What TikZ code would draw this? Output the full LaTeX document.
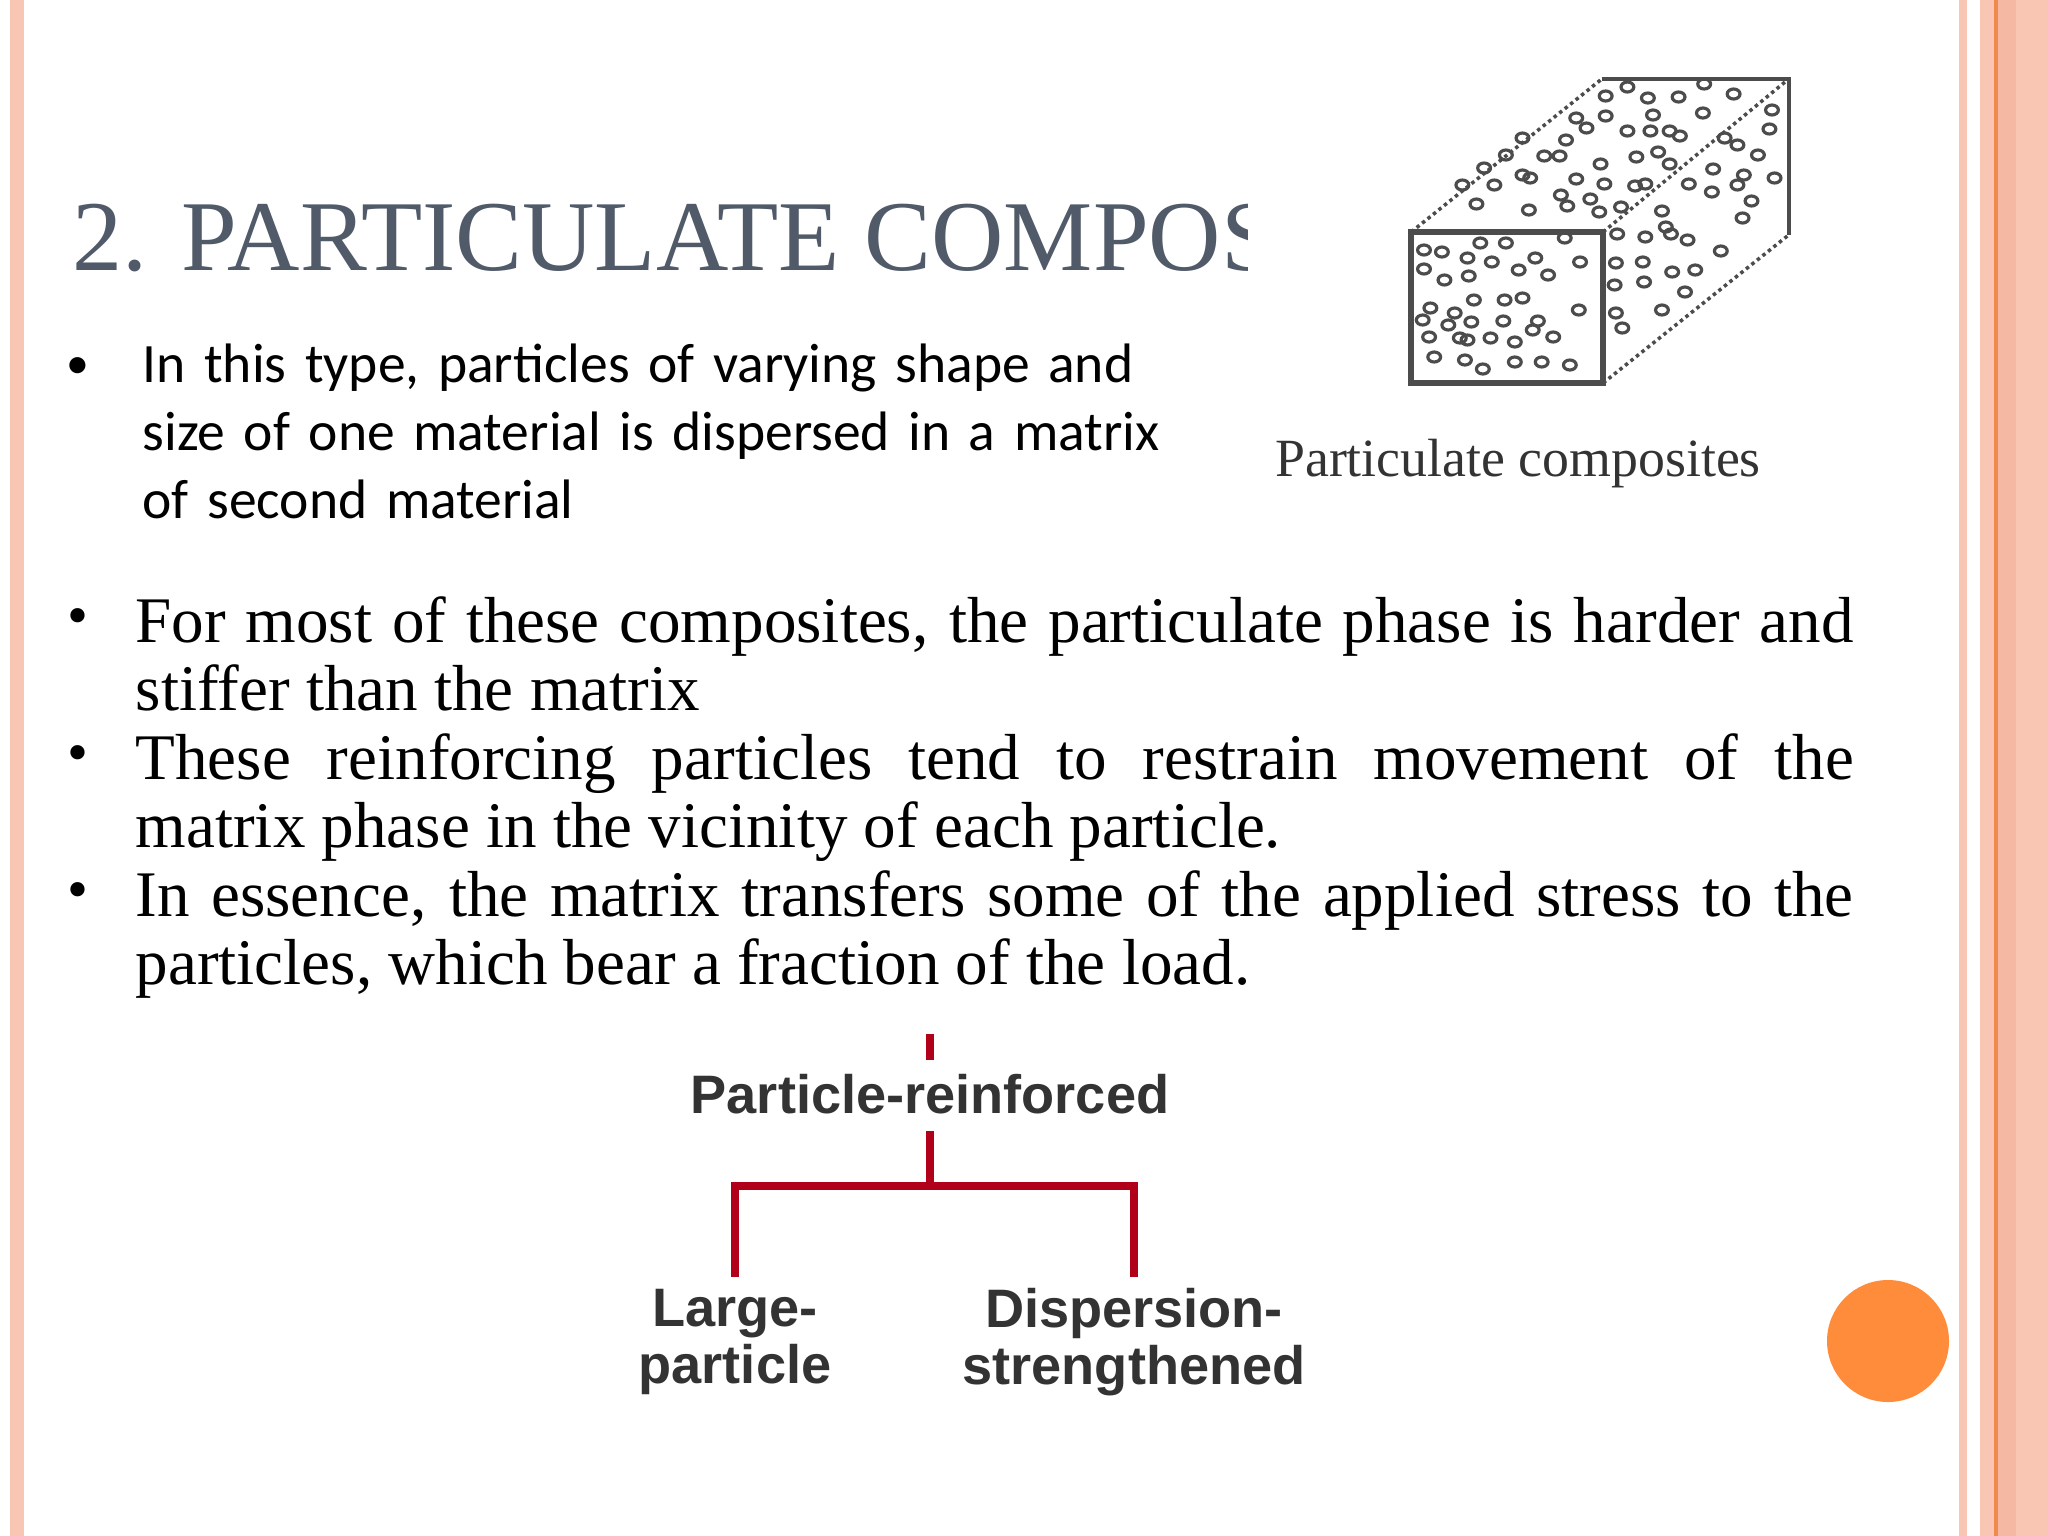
\documentclass[tikz,border=0pt]{standalone}
\usepackage{fontspec}
\setmainfont{Liberation Serif}
\newfontfamily\calib{Carlito}
\newfontfamily\arialf{Liberation Sans}
\definecolor{stripe}{HTML}{F9C6B3}
\definecolor{stripeD}{HTML}{F5B9A3}
\definecolor{orline}{HTML}{F08A4B}
\definecolor{titlec}{HTML}{505A68}
\definecolor{treered}{HTML}{B0001A}
\definecolor{dot}{HTML}{FF8C3A}
\begin{document}
\begin{tikzpicture}[x=0.01cm,y=-0.01cm,
  treeline/.style={treered,line width=2.2pt},
  treelabel/.style={font=\arialf\bfseries\fontsize{15.4}{16}\selectfont,text=black!80,align=center,inner sep=0pt},
  par/.style={anchor=north west,inner sep=0pt,align=justify},
  blt/.style={font=\fontsize{17}{20}\selectfont,inner sep=0pt}]
\useasboundingbox (0,0) rectangle (2048,1536);
\fill[white] (0,0) rectangle (2048,1536);
% borders
\fill[stripe] (10,0) rectangle (24,1536);
\fill[stripe] (1959,0) rectangle (1967,1536);
\fill[stripe] (1980,0) rectangle (2048,1536);
\fill[stripeD] (1997,0) rectangle (2016,1536);
\draw[orline,line width=1pt] (1996,0) -- (1996,1536);
% title
\begin{scope}
\clip (0,150) rectangle (1247,320);
\node[anchor=base west,inner sep=0pt,text=titlec,font=\fontsize{28.5}{32}\selectfont] (title) at (72,270) {2. PARTICULATE COMPOSITES};
\end{scope}
% bullet 1
\node[blt,font=\calib\fontsize{13}{16}\selectfont] (b1) at (78,368) {\textbullet};
\node[par,font=\calib\fontsize{15.8}{19.3}\selectfont,text width=11cm,align=left] (t1) at (142,343) {In this type, particles of varying shape and\\ size of one material is dispersed in a matrix\\ of second material};
% bullets 2-4
\node[blt] (b2) at (78,622) {\textbullet};
\node[par,font=\fontsize{18.5}{19.4}\selectfont,text width=17.17cm] (t2) at (135,596) {For most of these composites, the particulate phase is harder and\linebreak stiffer than the matrix};
\node[blt] (b3) at (78,759) {\textbullet};
\node[par,font=\fontsize{18.5}{19.4}\selectfont,text width=17.17cm] (t3) at (135,733) {These reinforcing particles tend to restrain movement of the\linebreak matrix phase in the vicinity of each particle.};
\node[blt] (b4) at (78,896) {\textbullet};
\node[par,font=\fontsize{18.5}{19.4}\selectfont,text width=17.17cm] (t4) at (135,870) {In essence, the matrix transfers some of the applied stress to the\linebreak particles, which bear a fraction of the load.};
% cube
\begin{scope}[gray!60!black,x=0.01278cm,xshift=-3.836cm]
\draw[line width=1pt,densely dotted] (1403,232) -- (1552,79) (1553,232) -- (1698,79) (1553,383) -- (1698,235);
\draw[line width=1.2pt] (1552,79) -- (1698,79) -- (1698,235);
\draw[line width=1.6pt] (1403,232) rectangle (1553,383);
\foreach \p in {(1413,250),(1427,252),(1457,243),(1477,243),(1523,238),(1447,258),(1466,262),(1500,258),(1535,262),(1413,269),(1429,280),(1448,276),(1487,270),(1510,275),(1418,308),(1437,313),(1452,300),(1476,300),(1490,298),(1534,310),(1475,321),(1450,322),(1412,320),(1432,325),(1447,340),(1498,330),(1484,342),(1417,337),(1441,338),(1465,338),(1514,337),(1421,357),(1445,360),(1459,369),(1484,362),(1505,362),(1527,365),(1502,321)}
  \draw[line width=0.9pt] \p circle (5);
\foreach \p in {(1572,87),(1632,84),(1555,96),(1588,98),(1612,97),(1655,94),(1592,115),(1631,113),(1532,118),(1555,116),(1540,128),(1572,131),(1590,131),(1605,131),(1648,138),(1613,136),(1685,110),(1683,129),(1524,140),(1490,138),(1507,156),(1519,156),(1551,164),(1579,157),(1596,152),(1586,184),(1532,179),(1554,184),(1578,186),(1605,164),(1520,195),(1477,155),(1460,168),(1490,175),(1443,185),(1468,185),(1496,178),(1454,204),(1495,210),(1525,206),(1543,199),(1567,207),(1550,212),(1599,211),(1620,184),(1658,185),(1602,227),(1619,240),(1638,192),(1663,175),(1687,178),(1669,201),(1662,218),(1658,145),(1639,169),(1674,155)}
  \draw[line width=0.9pt] \p circle (5);
\foreach \p in {(1564,234),(1586,237),(1606,234),(1563,263),(1584,262),(1607,272),(1645,251),(1562,285),(1585,282),(1617,292),(1563,313),(1599,310),(1568,328),(1625,270)}
  \draw[line width=0.9pt] \p circle (5);
\end{scope}
\node[font=\fontsize{15.3}{16}\selectfont,text=black!80,inner sep=0pt] (cap) at (1518,464) {Particulate composites};
% tree
\node[treelabel] (root) at (930,1094) {Particle-reinforced};
\node[treelabel] (lp) at (735,1342) {Large-\\particle};
\node[treelabel] (ds) at (1134,1342) {Dispersion-\\strengthened};
\coordinate (top) at (930,1034);
\coordinate (j) at (930,1186);
\draw[treeline] (top) -- ++(0,26);
\draw[treeline] (930,1131) -- (j);
\draw[treeline,line cap=rect] (lp.north |- j) -- (ds.north |- j);
\draw[treeline] (lp.north |- j) -- (735,1277);
\draw[treeline] (ds.north |- j) -- (1134,1277);
% orange dot
\fill[dot] (1888,1341) circle (61);
\end{tikzpicture}
\end{document}
